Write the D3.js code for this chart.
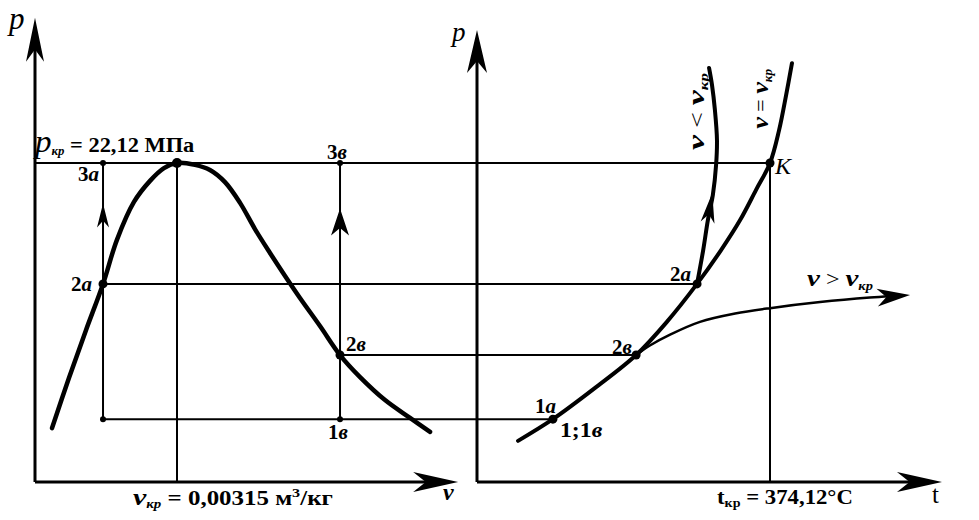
<!DOCTYPE html>
<html><head><meta charset="utf-8">
<script src="https://cdn.jsdelivr.net/npm/d3@7"></script>
<style>
html,body{margin:0;padding:0;background:#fff;}
svg text{font-family:"Liberation Serif","Times New Roman",serif;fill:#000;}
</style></head>
<body><svg id="c" width="979" height="520"></svg>
<script>
// ---- data (relative units: v in % of v_кр, t in % of t_кр, p in % of p_кр) ----
const domeV = [12.0, 23.9, 35.9, 47.9, 57.7, 69.7, 81.0, 90.8, 100, 112.7, 123.2, 133.8, 144.4, 154.9, 165.5, 176.1, 186.6, 200.7, 214.8, 228.9, 246.5, 264.1, 278.2];
const domeP = [16.9, 32.6, 47.6, 62.1, 75.9, 87.8, 94.4, 98.4, 100, 99.4, 97.8, 94.0, 87.5, 79.3, 71.8, 64.6, 57.7, 48.9, 39.8, 32.9, 25.7, 20.1, 15.7];
const satT = [14.0, 25.9, 40.3, 54.3, 64.8, 75.1, 83.3, 89.8, 95.2, 100, 103.1, 105.5, 107.5];
const satP = [12.9, 19.7, 29.5, 39.8, 50.2, 62.1, 72.7, 82.1, 91.5, 100, 110.3, 121.3, 131.3];
const lowT = [75.1, 77.2, 78.8, 80.5, 81.6, 81.9, 81.2, 80.2, 79.2];
const lowP = [62.1, 72.7, 82.1, 90.0, 99.4, 107.2, 116.6, 124.5, 129.8];
const highT = [54.3, 59.0, 65.9, 76.1, 88.1, 100, 117.1, 134.1, 141.0];
const highP = [39.8, 42.8, 46.2, 50.2, 52.8, 54.5, 56.4, 57.8, 58.2];
const highTip = [147.8, 58.6];
// state points
const pLevels = {p1: 19.7, p2b: 39.8, p2a: 62.1, pkr: 100};
const vLevels = {va: 47.9, vkr: 100, vb: 214.8};
const tLevels = {t1: 25.9, t2b: 54.3, t2a: 75.1, tkr: 100};
const axisMax = {v: 298, pLeft: 145.5, t: 158.7, pRight: 141.7};
const texts = {
  pkrValue: " = 22,12 МПа",
  vkrValue: " = 0,00315 м",
  tkrValue: " = 374,12°C",
  sub: "кр"
};

const svg = d3.select("#c");
const vX = d3.scaleLinear().domain([0, 100]).range([35, 177]);
const tX = d3.scaleLinear().domain([0, 100]).range([477, 770]);
const pY = d3.scaleLinear().domain([0, 100]).range([482, 163]);

function arrow(tip, from, len, hw, notch) {
  const dx = tip[0] - from[0], dy = tip[1] - from[1];
  const L = Math.hypot(dx, dy), ux = dx / L, uy = dy / L;
  const px = -uy, py = ux;
  const bx = tip[0] - ux * len, by = tip[1] - uy * len;
  const nx = tip[0] - ux * len * notch, ny = tip[1] - uy * len * notch;
  const p = d3.path();
  p.moveTo(tip[0], tip[1]);
  p.lineTo(bx + px * hw, by + py * hw);
  p.lineTo(nx, ny);
  p.lineTo(bx - px * hw, by - py * hw);
  p.closePath();
  svg.append("path").attr("d", p.toString()).attr("fill", "#000");
}
function seg(x1, y1, x2, y2, w) {
  svg.append("line").attr("x1", x1).attr("y1", y1).attr("x2", x2).attr("y2", y2)
    .attr("stroke", "#000").attr("stroke-width", w);
}
function dot(x, y, r) { svg.append("circle").attr("cx", x).attr("cy", y).attr("r", r).attr("fill", "#000"); }

// ---- axes ----
seg(vX(0), pY(0), vX(0), pY(axisMax.pLeft) + 20, 3);
arrow([vX(0), pY(axisMax.pLeft)], [vX(0), pY(0)], 44, 9, 0.72);
seg(vX(0), pY(0), vX(axisMax.v) - 20, pY(0), 3);
arrow([vX(axisMax.v), pY(0)], [vX(0), pY(0)], 45, 10, 0.72);
seg(tX(0), pY(0), tX(0), pY(axisMax.pRight) + 20, 3);
arrow([tX(0), pY(axisMax.pRight)], [tX(0), pY(0)], 43, 10, 0.72);
seg(tX(0), pY(0), tX(axisMax.t) - 20, pY(0), 3);
arrow([tX(axisMax.t), pY(0)], [tX(0), pY(0)], 45, 10, 0.72);

// ---- thin construction lines ----
seg(vX(0), pY(pLevels.pkr), tX(tLevels.tkr), pY(pLevels.pkr), 2);
seg(vX(vLevels.va), pY(pLevels.p2a), tX(tLevels.t2a), pY(pLevels.p2a), 2);
seg(vX(vLevels.vb), pY(pLevels.p2b), tX(tLevels.t2b), pY(pLevels.p2b), 2);
seg(vX(vLevels.va), pY(pLevels.p1), tX(tLevels.t1), pY(pLevels.p1), 2);
seg(vX(vLevels.va), pY(pLevels.p1), vX(vLevels.va), pY(pLevels.pkr), 2);
seg(vX(vLevels.vkr), pY(0), vX(vLevels.vkr), pY(pLevels.pkr), 2);
seg(vX(vLevels.vb), pY(pLevels.p1), vX(vLevels.vb), pY(pLevels.pkr), 2);
seg(tX(tLevels.tkr), pY(0), tX(tLevels.tkr), pY(pLevels.pkr), 2);
// process arrows on the verticals
arrow([vX(vLevels.va), pY(87.3)], [vX(vLevels.va), pY(0)], 24, 6, 0.72);
arrow([vX(vLevels.vb), pY(85.7)], [vX(vLevels.vb), pY(0)], 27, 9, 0.72);

// ---- curves ----
const lineVP = d3.line().x(d => vX(d[0])).y(d => pY(d[1])).curve(d3.curveCatmullRom.alpha(0.5));
const lineTP = d3.line().x(d => tX(d[0])).y(d => pY(d[1])).curve(d3.curveCatmullRom.alpha(0.5));
const dome = domeV.map((v, i) => [v, domeP[i]]);
const sat = satT.map((t, i) => [t, satP[i]]);
const low = lowT.map((t, i) => [t, lowP[i]]);
const high = highT.map((t, i) => [t, highP[i]]);

svg.append("path").attr("d", lineVP(dome)).attr("fill", "none").attr("stroke", "#000").attr("stroke-width", 4.5).attr("stroke-linecap", "round");
svg.append("path").attr("d", lineTP(sat)).attr("fill", "none").attr("stroke", "#000").attr("stroke-width", 4).attr("stroke-linecap", "round");
svg.append("path").attr("d", lineTP(low)).attr("fill", "none").attr("stroke", "#000").attr("stroke-width", 4).attr("stroke-linecap", "round");
svg.append("path").attr("d", lineTP(high)).attr("fill", "none").attr("stroke", "#000").attr("stroke-width", 2.5);
arrow([tX(highTip[0]), pY(highTip[1])], [tX(highT[6]), pY(highP[6])], 33, 9, 0.72);
arrow([tX(80.3), pY(90.6)], [tX(77.2), pY(72.7)], 30, 7, 0.72);

// ---- points ----
dot(vX(vLevels.va), pY(pLevels.pkr), 3);
dot(vX(vLevels.va), pY(pLevels.p1), 3);
dot(vX(vLevels.vb), pY(pLevels.pkr), 3);
dot(vX(vLevels.vb), pY(pLevels.p1), 3);
dot(vX(vLevels.vkr), pY(pLevels.pkr), 5);
dot(vX(vLevels.va), pY(pLevels.p2a), 4.5);
dot(vX(vLevels.vb), pY(pLevels.p2b), 4.5);
dot(tX(tLevels.t2a), pY(pLevels.p2a), 4.5);
dot(tX(tLevels.t2b), pY(pLevels.p2b), 4.5);
dot(tX(tLevels.t1), pY(pLevels.p1), 4.5);
dot(tX(tLevels.tkr), pY(pLevels.pkr), 4.5);

// ---- text ----
function label(x, y, parts, opts = {}) {
  const g = svg.append("g").attr("transform", `translate(${x},${y})` + (opts.rotate ? ` rotate(${opts.rotate})` : ""));
  const t = g.append("text").attr("x", 0).attr("y", 0);
  if (opts.anchor) t.attr("text-anchor", opts.anchor);
  parts.forEach(p => {
    const s = t.append("tspan").text(p.s)
      .attr("font-size", p.size || 20)
      .attr("font-weight", p.bold === false ? "normal" : "bold")
      .attr("font-style", p.it ? "italic" : "normal");
    if (p.dy) s.attr("dy", p.dy);
  });
  if (opts.width) {
    const w = t.node().getBBox().width;
    if (w > 0) t.attr("transform", `scale(${opts.width / w},1)`);
  }
  return t;
}
// left panel
label(9, 29, [{s: "p", it: true, size: 31, bold: false}]);
label(35, 152, [{s: "p", it: true, size: 31, bold: false}, {s: texts.sub, it: true, size: 12, dy: 3}, {s: texts.pkrValue, size: 21, dy: -3}], {width: 162});
label(99, 181, [{s: "3", size: 21}, {s: "а", it: true, size: 21}], {anchor: "end"});
label(92, 291, [{s: "2", size: 21}, {s: "а", it: true, size: 21}], {anchor: "end"});
label(327, 159, [{s: "3", size: 21}, {s: "в", it: true, size: 21}]);
label(346, 351, [{s: "2", size: 21}, {s: "в", it: true, size: 21}]);
label(328, 439, [{s: "1", size: 21}, {s: "в", it: true, size: 21}]);
label(133, 505, [{s: "v", it: true, size: 24}, {s: texts.sub, it: true, size: 12, dy: 3}, {s: texts.vkrValue, size: 20, dy: -3},
  {s: "3", size: 13, dy: -8}, {s: "/кг", size: 20, dy: 8}], {width: 200});
label(443, 500, [{s: "v", it: true, size: 24}]);
// right panel
label(452, 41, [{s: "p", it: true, size: 27, bold: false}]);
label(775, 174, [{s: "K", it: true, size: 24, bold: false}]);
label(670, 281, [{s: "2", size: 21}, {s: "а", it: true, size: 21}]);
label(612, 354, [{s: "2", size: 21}, {s: "в", it: true, size: 21}]);
label(535, 413, [{s: "1", size: 21}, {s: "а", it: true, size: 21}]);
label(560, 437, [{s: "1;1", size: 21}, {s: "в", it: true, size: 21}], {width: 43});
label(807, 286, [{s: "v", it: true, size: 24}, {s: " > ", size: 20, bold: false}, {s: "v", it: true, size: 24}, {s: texts.sub, it: true, size: 12, dy: 4}], {width: 66});
label(tX(77.5), pY(116.1), [{s: "v", it: true, size: 24}, {s: " < ", size: 20, bold: false}, {s: "v", it: true, size: 24}, {s: texts.sub, it: true, size: 12, dy: 4}],
  {anchor: "middle", rotate: -90, width: 77});
label(tX(99.3), pY(120.1), [{s: "v", it: true, size: 24}, {s: " = ", size: 20, bold: false}, {s: "v", it: true, size: 24}, {s: texts.sub, it: true, size: 12, dy: 4}],
  {anchor: "middle", rotate: -90, width: 60});
label(717, 504, [{s: "t", size: 21}, {s: texts.sub, size: 13, dy: 3}, {s: texts.tkrValue, size: 21, dy: -3}], {width: 136});
label(932, 503, [{s: "t", size: 25, bold: false}]);
</script></body></html>
